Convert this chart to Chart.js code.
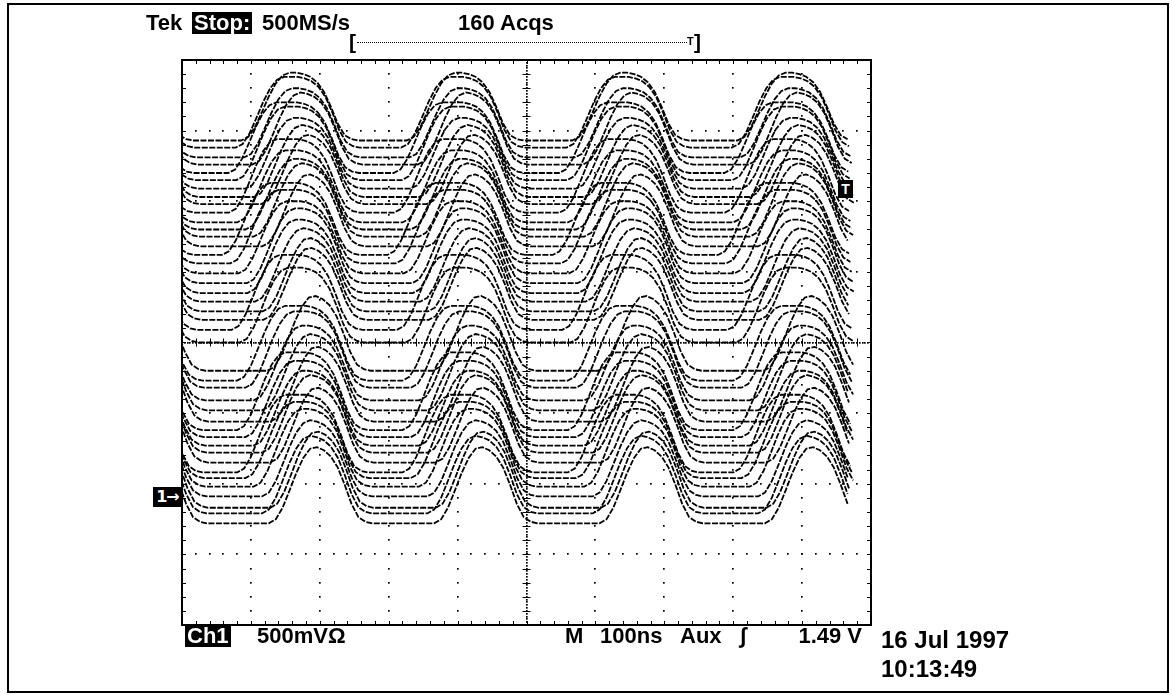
<!DOCTYPE html>
<html><head><meta charset="utf-8">
<script src="https://cdn.jsdelivr.net/npm/chart.js@4.4.1/dist/chart.umd.min.js"></script>
<style>
html,body{margin:0;padding:0;background:#fff;}
#wrap{position:relative;width:1172px;height:695px;overflow:hidden;font-family:"Liberation Sans",Arial,sans-serif;font-weight:bold;color:#000;}
#c{position:absolute;left:0;top:0;}
.t{position:absolute;white-space:nowrap;line-height:1;}
.inv{background:#000;color:#fff;padding:0 2px;}
#frame{position:absolute;left:7px;top:3px;width:1158px;height:686px;border:2px solid #000;}
.dotline{position:absolute;height:0;border-top:1px dotted #000;}
.mark{position:absolute;background:#000;color:#fff;text-align:center;line-height:1;}
</style></head>
<body><div id="wrap">
<div id="frame"></div>
<canvas id="c" width="1172" height="695"></canvas>

<div class="t" style="left:146px;top:12px;font-size:22px;">Tek</div>
<div class="t inv" style="left:192px;top:12px;font-size:22px;">Stop:</div>
<div class="t" style="left:262px;top:12px;font-size:22px;">500MS/s</div>
<div class="t" style="left:458px;top:12px;font-size:22px;">160 Acqs</div>

<div class="t" style="left:349px;top:31px;font-size:21px;">[</div>
<div class="dotline" style="left:357px;top:42px;width:330px;"></div>
<div class="t" style="left:687px;top:36px;font-size:11px;">T</div>
<div class="t" style="left:694px;top:31px;font-size:21px;">]</div>

<div class="mark" style="left:153px;top:487px;width:29px;height:20px;font-size:16px;padding-top:2px;box-sizing:border-box;font-family:'DejaVu Sans',sans-serif;letter-spacing:-1px;">1→</div>
<div class="mark" style="left:838px;top:180px;width:15px;height:18px;font-size:14px;padding-top:2px;box-sizing:border-box;">T</div>

<div class="t inv" style="left:185px;top:625px;font-size:22px;">Ch1</div>
<div class="t" style="left:257px;top:625px;font-size:22px;">500mVΩ</div>
<div class="t" style="left:565px;top:625px;font-size:22px;">M</div>
<div class="t" style="left:600px;top:625px;font-size:22px;">100ns</div>
<div class="t" style="left:680px;top:625px;font-size:22px;">Aux</div>
<div class="t" style="left:740px;top:625px;font-size:22px;">∫</div>
<div class="t" style="right:310px;top:625px;font-size:22px;">1.49 V</div>
<div class="t" style="left:881px;top:628px;font-size:24px;">16 Jul 1997</div>
<div class="t" style="left:881px;top:657px;font-size:24px;">10:13:49</div>
</div>
<script>
// Pulse pieces (normalised: 0 = low level, 1 = high level), 10 ns apart.
const fallEdge = [0.50,0.25,0.08,0.02];
const riseEdge = [0.05,0.20,0.42,0.65,0.84,0.96];
const topEdge  = [0.98,0.94,0.86,0.72];
const shapeStepNs = 10;
const periodNs = 240;
const firstFallNs = 222;
const recordEndNs = 975;

// Per-acquisition values, top trace first: low level (V), low-state duration (ns), time offset (ns), amplitude (V).
const traceBaseV = [1.43,1.38,1.31,1.26,1.20,1.15,1.09,1.03,0.98,0.92,0.85,0.80,0.75,0.68,0.62,0.56,0.49,0.42,0.35,0.29,0.22,0.16,0.09,0.00,-0.20,-0.27,-0.32,-0.41,-0.48,-0.56,-0.62,-0.67,-0.73,-0.78,-0.85,-0.92,-0.96,-1.02,-1.09,-1.17,-1.21,-1.28];
const traceLowNs = [80,70,80,90,60,70,80,90,100,60,70,80,90,100,50,60,70,80,80,90,100,100,60,70,100,60,70,80,90,100,60,70,80,90,100,60,70,80,90,100,90,100];
const traceShiftNs = [-6,-4,-2,0,-5,-3,0,2,3,-4,-2,0,2,4,-4,-2,0,2,3,4,5,6,0,2,12,8,10,12,14,16,8,10,12,14,16,8,10,12,14,16,14,14];
const traceAmpV = [0.48,0.50,0.49,0.51,0.50,0.52,0.50,0.51,0.50,0.52,0.51,0.50,0.52,0.52,0.51,0.52,0.51,0.53,0.52,0.52,0.53,0.52,0.53,0.53,0.54,0.53,0.54,0.53,0.54,0.54,0.55,0.54,0.53,0.55,0.54,0.55,0.54,0.55,0.54,0.55,0.55,0.55];

// Graticule: 10 x 100 ns, 8 x 500 mV
const xDivisionsNs = [0,100,200,300,400,500,600,700,800,900,1000];
const yDivisionsV = [-2,-1.5,-1,-0.5,0,0.5,1,1.5,2];
const xMinorNs = 20, yMinorV = 0.1;

const datasets = traceBaseV.map((b, k) => {
  const lowCount = traceLowNs[k] / shapeStepNs;
  const period = [].concat(fallEdge, new Array(lowCount).fill(0), riseEdge, new Array(10 - lowCount).fill(1), topEdge);
  const n = period.length;
  const pts = [];
  const start = firstFallNs + traceShiftNs[k] - 2 * periodNs;
  for (let i = 0; i < n * 7; i++) {
    const x = start + i * shapeStepNs;
    if (x < -shapeStepNs || x > recordEndNs) continue;
    pts.push({x: x, y: b + traceAmpV[k] * period[i % n]});
  }
  return {data: pts, borderColor: '#000', borderWidth: 1.8, pointRadius: 0, borderDash: [6, 1.5], tension: 0, fill: false};
});

const graticule = {
  id: 'graticule',
  beforeDatasetsDraw(chart) {
    const ctx = chart.ctx, xs = chart.scales.x, ys = chart.scales.y;
    ctx.save();
    ctx.fillStyle = '#000';
    const dot = (x, y) => ctx.fillRect(Math.round(x) - 1, Math.round(y) - 1, 1.7, 1.7);
    const x0 = xDivisionsNs[0], x1 = xDivisionsNs[xDivisionsNs.length - 1];
    const y0 = yDivisionsV[0], y1 = yDivisionsV[yDivisionsV.length - 1];
    xDivisionsNs.slice(1, -1).forEach(xv => {
      const px = xs.getPixelForValue(xv);
      const step = xv === 500 ? yMinorV / 5 : yMinorV;
      for (let yv = y0; yv <= y1 + 1e-9; yv += step) dot(px, ys.getPixelForValue(yv));
    });
    yDivisionsV.slice(1, -1).forEach(yv => {
      const py = ys.getPixelForValue(yv);
      const step = yv === 0 ? xMinorNs / 5 : xMinorNs;
      for (let xv = x0; xv <= x1 + 1e-9; xv += step) dot(xs.getPixelForValue(xv), py);
    });
    ctx.strokeStyle = '#000'; ctx.lineWidth = 1;
    ctx.beginPath();
    const cx = xs.getPixelForValue(500), cy = ys.getPixelForValue(0);
    const {left, right, top, bottom} = chart.chartArea;
    for (let xv = x0; xv <= x1 + 1e-9; xv += xMinorNs) {
      const px = Math.round(xs.getPixelForValue(xv)) + 0.5;
      ctx.moveTo(px, cy - 4); ctx.lineTo(px, cy + 4);
      ctx.moveTo(px, top); ctx.lineTo(px, top + 4);
      ctx.moveTo(px, bottom); ctx.lineTo(px, bottom - 4);
    }
    for (let yv = y0; yv <= y1 + 1e-9; yv += yMinorV) {
      const py = Math.round(ys.getPixelForValue(yv)) + 0.5;
      ctx.moveTo(cx - 4, py); ctx.lineTo(cx + 4, py);
      ctx.moveTo(left, py); ctx.lineTo(left + 4, py);
      ctx.moveTo(right, py); ctx.lineTo(right - 4, py);
    }
    ctx.stroke();
    ctx.restore();
  },
  afterDatasetsDraw(chart) {
    const ctx = chart.ctx;
    const {left, right, top, bottom} = chart.chartArea;
    ctx.save();
    ctx.strokeStyle = '#000'; ctx.lineWidth = 2;
    ctx.strokeRect(left, top, right - left, bottom - top);
    ctx.restore();
  }
};

new Chart(document.getElementById('c'), {
  type: 'line',
  data: {datasets: datasets},
  options: {
    responsive: false,
    animation: false,
    layout: {padding: {left: 182, top: 60, right: 301, bottom: 70}},
    plugins: {legend: {display: false}, tooltip: {enabled: false}},
    scales: {
      x: {type: 'linear', min: 0, max: 1000, display: false},
      y: {type: 'linear', min: -2, max: 2, display: false}
    }
  },
  plugins: [graticule]
});
</script>
</body></html>
